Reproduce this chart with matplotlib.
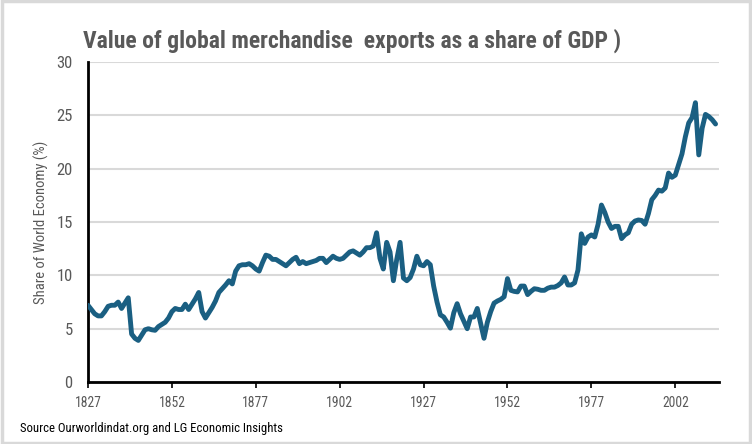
import matplotlib
matplotlib.use("Agg")
import matplotlib.pyplot as plt
from matplotlib.patches import Rectangle
from matplotlib import font_manager
from matplotlib.font_manager import FontProperties

years = list(range(1827, 2015))
values = [
    7.2, 6.8, 6.4, 6.2, 6.2, 6.6, 7.1, 7.2, 7.2, 7.5,   # 1827-1836
    6.9, 7.4, 7.9, 4.5, 4.1, 3.9, 4.4, 4.9, 5.0, 4.9,   # 1837-1846
    4.85, 5.2, 5.4, 5.6, 6.0, 6.6, 6.9, 6.8, 6.8, 7.3,  # 1847-1856
    6.8, 7.3, 7.8, 8.4, 6.6, 6.0, 6.5, 7.0, 7.6, 8.4,   # 1857-1866
    8.75, 9.1, 9.5, 9.2, 10.4, 10.9, 11.0, 11.0, 11.1, 10.9,  # 1867-1876
    10.6, 10.4, 11.2, 11.9, 11.8, 11.5, 11.5, 11.3, 11.1, 10.9,  # 1877-1886
    11.2, 11.5, 11.7, 11.1, 11.3, 11.1, 11.2, 11.3, 11.4, 11.6,  # 1887-1896
    11.6, 11.2, 11.5, 11.8, 11.6, 11.5, 11.6, 11.9, 12.2, 12.3,  # 1897-1906
    12.1, 11.9, 12.2, 12.6, 12.6, 12.75, 14.0, 11.6, 10.6, 13.1,  # 1907-1916
    12.2, 9.5, 11.5, 13.1, 9.75, 9.5, 9.8, 10.6, 11.8, 11.0,   # 1917-1926
    10.9, 11.3, 11.0, 9.0, 7.5, 6.3, 6.1, 5.6, 5.05, 6.5,      # 1927-1936
    7.35, 6.4, 5.7, 5.0, 6.1, 6.1, 6.9, 5.5, 4.1, 5.6,         # 1937-1946
    6.6, 7.4, 7.6, 7.75, 8.0, 9.7, 8.6, 8.5, 8.45, 9.0,        # 1947-1956
    9.0, 8.2, 8.5, 8.75, 8.7, 8.6, 8.6, 8.8, 8.9, 8.9,         # 1957-1966
    9.05, 9.3, 9.85, 9.1, 9.1, 9.3, 10.5, 13.9, 13.0, 13.6,    # 1967-1976
    13.8, 13.6, 14.8, 16.6, 15.9, 15.0, 14.4, 14.6, 14.6, 13.45,  # 1977-1986
    13.8, 14.0, 14.8, 15.1, 15.2, 15.15, 14.8, 15.8, 17.1, 17.5,  # 1987-1996
    18.0, 17.9, 18.2, 19.6, 19.2, 19.4, 20.4, 21.4, 23.0, 24.3,   # 1997-2006
    24.8, 26.2, 21.3, 23.8, 25.1, 24.9, 24.6, 24.2,               # 2007-2014
]
xtick_years = [1827, 1852, 1877, 1902, 1927, 1952, 1977, 2002]
yticks = [0, 5, 10, 15, 20, 25, 30]

title = "Value of global merchandise  exports as a share of GDP )"
ylabel = "Share of World Economy (%)"
source = "Source Ourworldindat.org and LG Economic Insights"


def pick_font(bold):
    fl = font_manager.fontManager.ttflist
    def wt(f):
        w = f.weight
        if isinstance(w, str):
            w = {"bold": 700, "normal": 400, "regular": 400}.get(w, 400)
        return w
    def is_narrow(f):
        n = (f.name + " " + f.fname).lower()
        return ("condensed" in n or "narrow" in n or
                str(f.stretch) in ("condensed", "semi-condensed", "extra-condensed"))
    cands = [f for f in fl if is_narrow(f) and f.style == "normal"]
    if bold:
        c2 = [f for f in cands if wt(f) >= 600]
    else:
        c2 = [f for f in cands if 350 <= wt(f) < 600]
    if c2:
        pref = ["Roboto", "Liberation", "DejaVu", "Open Sans", "Noto"]
        c2.sort(key=lambda f: next((i for i, p in enumerate(pref) if p in f.name), 99))
        return FontProperties(fname=c2[0].fname)
    return FontProperties(family="Roboto", weight="bold" if bold else "normal")


fp_reg = pick_font(False)
fp_bold = pick_font(True)

fig = plt.figure(figsize=(7.52, 4.44), dpi=100)
fig.patch.set_facecolor("white")
ax = fig.add_axes([0.117, 0.1396, 0.839, 0.7204])

ax.plot(years, values, color="#1a5f82", linewidth=3.5, solid_joinstyle="round",
        solid_capstyle="round", zorder=3)

ax.set_xlim(1827, 2015)
ax.set_ylim(0, 30)
ax.set_yticks(yticks)
ax.set_xticks(xtick_years)
ax.set_xticklabels([str(y) for y in xtick_years])
ax.set_yticklabels([str(v) for v in yticks])
ax.tick_params(axis="y", length=0, pad=11)
ax.tick_params(axis="x", length=4, width=1.2, color="black", direction="out", pad=6)

ax.grid(axis="y", color="#d9d9d9", linewidth=1.5, zorder=0)
ax.set_axisbelow(True)
for s in ["top", "right"]:
    ax.spines[s].set_visible(False)
for s in ["left", "bottom"]:
    ax.spines[s].set_linewidth(2)
    ax.spines[s].set_color("black")

ylab = ax.set_ylabel(ylabel, color="#595959")
ax.yaxis.set_label_coords(-0.062, 0.5)

t_title = fig.text(0.111, 0.908, title, color="#595959", ha="left", va="center")
t_src = fig.text(0.027, 0.036, source, color="black", ha="left", va="center")

fig.add_artist(Rectangle((0.002, 0.003), 0.996, 0.994, transform=fig.transFigure,
                         fill=False, edgecolor="#d9d9d9", linewidth=2.5))

for lab in ax.get_xticklabels() + ax.get_yticklabels():
    lab.set_fontproperties(fp_reg)
    lab.set_color("#595959")
ylab.set_fontproperties(fp_reg)
t_title.set_fontproperties(fp_bold)
t_src.set_fontproperties(fp_reg)

renderer = fig.canvas.get_renderer()


def fit(txt, target, base, horiz=True, maxsize=None):
    txt.set_fontsize(base)
    bb = txt.get_window_extent(renderer)
    cur = bb.width if horiz else bb.height
    s = base * target / cur
    if maxsize:
        s = min(s, maxsize)
    txt.set_fontsize(s)
    return s


fit(t_title, 566, 16, maxsize=17)
fit(t_src, 262, 9, maxsize=10)
fit(ylab, 169, 9.5, horiz=False, maxsize=10.5)
xl = ax.get_xticklabels()
sx = fit(xl[0], 27, 10.5, maxsize=11.5)
for lab in xl:
    lab.set_fontsize(sx)
yl = ax.get_yticklabels()
sy = fit(yl[4], 17, 11, maxsize=12)
for lab in yl:
    lab.set_fontsize(sy)

fig.savefig("out.png", dpi=100)
